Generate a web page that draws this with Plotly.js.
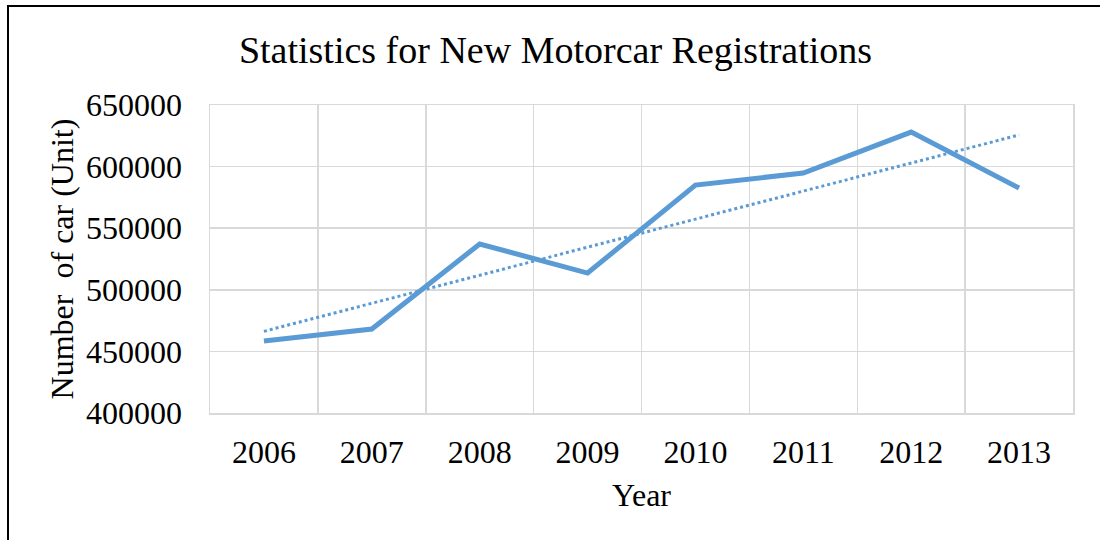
<!DOCTYPE html>
<html>
<head>
<meta charset="utf-8">
<script src="https://cdn.plot.ly/plotly-3.0.1.min.js"></script>
<style>
  html, body { margin: 0; padding: 0; background: #ffffff; }
  #frame { position: absolute; left: 7px; top: 5px; width: 1200px; height: 700px; border: 2px solid #000; }
  #chart { position: absolute; left: 0; top: 0; width: 1100px; height: 540px; }
</style>
</head>
<body>
<div id="frame"></div>
<div id="chart"></div>
<script>
const years = ['2006', '2007', '2008', '2009', '2010', '2011', '2012', '2013'];
const registrations = [458400, 468200, 537200, 513600, 585000, 594800, 628000, 582600];
const yTicks = [400000, 450000, 500000, 550000, 600000, 650000];

// Linear trendline (least squares fit of the data, as in the original spreadsheet chart)
const n = registrations.length;
const xs = registrations.map((_, i) => i);
const mx = xs.reduce((a, b) => a + b, 0) / n;
const my = registrations.reduce((a, b) => a + b, 0) / n;
let sxy = 0, sxx = 0;
for (let i = 0; i < n; i++) { sxy += (xs[i] - mx) * (registrations[i] - my); sxx += (xs[i] - mx) ** 2; }
const slope = sxy / sxx;
const intercept = my - slope * mx;
const trend = xs.map(x => intercept + slope * x);

const serif = 'Liberation Serif, Times New Roman, serif';
const blue = '#5b9bd5';

const data = [
  { type: 'scatter', mode: 'lines', x: years, y: trend, name: 'Linear trend',
    line: { color: blue, width: 3, dash: 'dot' }, hoverinfo: 'skip' },
  { type: 'scatter', mode: 'lines', x: years, y: registrations, name: 'Registrations',
    line: { color: blue, width: 5 } }
];

const layout = {
  width: 1100, height: 540,
  paper_bgcolor: 'rgba(0,0,0,0)', plot_bgcolor: '#ffffff',
  margin: { l: 210, r: 27, t: 105, b: 127 },
  showlegend: false,
  font: { family: serif, color: '#000000', size: 32 },
  title: { text: 'Statistics for New Motorcar Registrations', font: { family: serif, size: 38, color: '#000' },
           x: 0.505, xanchor: 'center', xref: 'container', y: 0.908, yanchor: 'middle', yref: 'container' },
  xaxis: {
    type: 'category', range: [-0.5, 7.5], tickson: 'boundaries',
    showgrid: true, gridcolor: '#d9d9d9', gridwidth: 1.5,
    showline: true, linecolor: '#d9d9d9', linewidth: 1.5, mirror: true,
    ticks: '', ticklabelstandoff: 10,
    tickfont: { family: serif, size: 32, color: '#000' },
    title: { text: 'Year', font: { family: serif, size: 32, color: '#000' }, standoff: 14 },
    zeroline: false, fixedrange: true
  },
  yaxis: {
    range: [400000, 650000], tickvals: yTicks, ticktext: yTicks.map(String),
    showgrid: true, gridcolor: '#d9d9d9', gridwidth: 1.5,
    showline: true, linecolor: '#d9d9d9', linewidth: 1.5, mirror: true,
    ticks: 'outside', ticklen: 20, tickcolor: 'rgba(0,0,0,0)',
    tickfont: { family: serif, size: 32, color: '#000' },
    title: { text: 'Number  of car (Unit)', font: { family: serif, size: 32, color: '#000' }, standoff: 3 },
    zeroline: false, fixedrange: true
  }
};

Plotly.newPlot('chart', data, layout, { displayModeBar: false, staticPlot: true });
</script>
</body>
</html>
